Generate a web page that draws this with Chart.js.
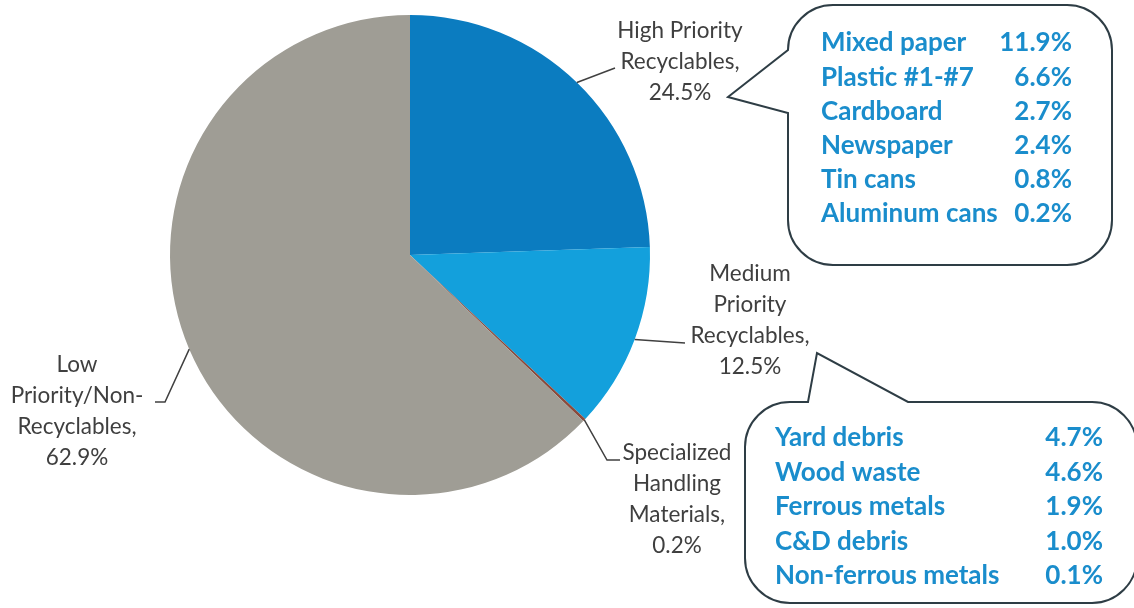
<!DOCTYPE html>
<html>
<head>
<meta charset="utf-8">
<script src="https://cdn.jsdelivr.net/npm/chart.js@4.4.1/dist/chart.umd.min.js"></script>
<style>
  html, body { margin: 0; padding: 0; background: #fff; }
  #wrap { width: 1134px; height: 608px; }
</style>
</head>
<body>
<div id="wrap"><canvas id="wastePie" width="1134" height="608"></canvas></div>
<script>
// waste composition by recycling priority
const categories = ["High Priority Recyclables", "Medium Priority Recyclables", "Specialized Handling Materials", "Low Priority/Non-Recyclables"];
const shares = [24.5, 12.5, 0.2, 62.9];
const labelLines = [
    ["High Priority", "Recyclables,"],
    ["Medium", "Priority", "Recyclables,"],
    ["Specialized", "Handling", "Materials,"],
    ["Low", "Priority/Non-", "Recyclables,"]
];
const sliceColors = ["#0b7cc0", "#13a0dc", "#8a4a3c", "#9f9d95"];

// breakdown boxes
const highItems = ["Mixed paper", "Plastic #1-#7", "Cardboard", "Newspaper", "Tin cans", "Aluminum cans"];
const highShares = [11.9, 6.6, 2.7, 2.4, 0.8, 0.2];
const mediumItems = ["Yard debris", "Wood waste", "Ferrous metals", "C&D debris", "Non-ferrous metals"];
const mediumShares = [4.7, 4.6, 1.9, 1.0, 0.1];

const labelFont = "22.5px Lato, 'Open Sans', sans-serif";
const boxFont = "bold 26px Lato, 'Open Sans', sans-serif";
const textGrey = "#3f3f3f";
const boxBlue = "#1a8dcc";

// where each slice label sits, and the leader line bends after leaving the arc
const labelSpots = [
    { x: 680, y: 31, leader: [[615, 68]] },
    { x: 750, y: 274, leader: [[685, 343]] },
    { x: 677, y: 453, leader: [[607, 460], [620, 460]] },
    { x: 77, y: 365, leader: [[165, 402], [155, 402]] }
];

const callouts = [
    { x: 788, y: 5, w: 324, h: 260, r: 45, side: "left", tail: [[788, 113], [728, 97], [788, 50]],
      items: highItems, values: highShares, textX: 821, valX: 1072, rowY: 43, rowH: 34.2 },
    { x: 745, y: 402, w: 392, h: 201, r: 45, side: "top", tail: [[808, 402], [817, 353], [908, 402]],
      items: mediumItems, values: mediumShares, textX: 775, valX: 1103, rowY: 438, rowH: 34.5 }
];

function roundedBubble(ctx, c) {
    const { x, y, w, h, r } = c;
    ctx.beginPath();
    if (c.side === "left") {
        ctx.moveTo(x + r, y);
        ctx.lineTo(x + w - r, y);
        ctx.arcTo(x + w, y, x + w, y + r, r);
        ctx.lineTo(x + w, y + h - r);
        ctx.arcTo(x + w, y + h, x + w - r, y + h, r);
        ctx.lineTo(x + r, y + h);
        ctx.arcTo(x, y + h, x, y + h - r, r);
        c.tail.forEach(p => ctx.lineTo(p[0], p[1]));
        ctx.arcTo(x, y, x + r, y, r);
    } else {
        ctx.moveTo(x, y + r);
        ctx.arcTo(x, y, x + r, y, r);
        c.tail.forEach(p => ctx.lineTo(p[0], p[1]));
        ctx.lineTo(x + w - r, y);
        ctx.arcTo(x + w, y, x + w, y + r, r);
        ctx.lineTo(x + w, y + h - r);
        ctx.arcTo(x + w, y + h, x + w - r, y + h, r);
        ctx.lineTo(x + r, y + h);
        ctx.arcTo(x, y + h, x, y + h - r, r);
    }
    ctx.closePath();
}

const sliceLabels = {
    id: "sliceLabels",
    afterDatasetsDraw(chart) {
        const ctx = chart.ctx;
        const arcs = chart.getDatasetMeta(0).data;
        ctx.save();

        // leader lines from the middle of each slice's outer edge
        ctx.strokeStyle = "#404040";
        ctx.lineWidth = 1.5;
        arcs.forEach((arc, i) => {
            const { x, y, startAngle, endAngle, outerRadius } = arc.getProps(["x", "y", "startAngle", "endAngle", "outerRadius"], true);
            const mid = (startAngle + endAngle) / 2;
            ctx.beginPath();
            ctx.moveTo(x + Math.cos(mid) * outerRadius, y + Math.sin(mid) * outerRadius);
            labelSpots[i].leader.forEach(p => ctx.lineTo(p[0], p[1]));
            ctx.stroke();
        });

        ctx.font = labelFont;
        ctx.fillStyle = textGrey;
        ctx.textAlign = "center";
        ctx.textBaseline = "middle";
        labelLines.forEach((lines, i) => {
            const all = lines.concat([shares[i].toFixed(1) + "%"]);
            all.forEach((t, k) => ctx.fillText(t, labelSpots[i].x, labelSpots[i].y + k * 30.8));
        });

        // breakdown bubbles
        callouts.forEach(c => {
            roundedBubble(ctx, c);
            ctx.fillStyle = "#fff";
            ctx.fill();
            ctx.strokeStyle = "#2e3d45";
            ctx.lineWidth = 2;
            ctx.stroke();
            ctx.font = boxFont;
            ctx.fillStyle = boxBlue;
            c.items.forEach((name, k) => {
                const ty = c.rowY + k * c.rowH;
                ctx.textAlign = "left";
                ctx.fillText(name, c.textX, ty);
                ctx.textAlign = "right";
                ctx.fillText(c.values[k].toFixed(1) + "%", c.valX, ty);
            });
        });
        ctx.restore();
    }
};

new Chart(document.getElementById("wastePie"), {
    type: "pie",
    data: {
        labels: categories,
        datasets: [{
            data: shares,
            backgroundColor: sliceColors,
            borderWidth: 0
        }]
    },
    options: {
        responsive: false,
        animation: false,
        layout: { padding: { left: 170, right: 484, top: 15, bottom: 113 } },
        plugins: {
            legend: { display: false },
            tooltip: { enabled: false }
        }
    },
    plugins: [sliceLabels]
});
</script>
</body>
</html>
